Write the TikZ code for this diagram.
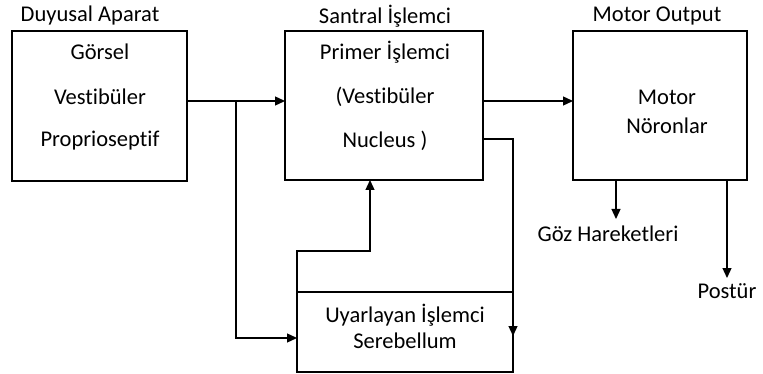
\documentclass[tikz,border=0pt]{standalone}
\usepackage{fontspec}
\setmainfont{Carlito}[Ligatures={NoCommon}]
\usetikzlibrary{arrows.meta}
\begin{document}
\begin{tikzpicture}[x=1pt,y=-1pt,
  box/.style={draw,line width=1.3pt},
  txt/.style={inner sep=0pt,font=\fontsize{22.5}{26}\selectfont},
  arr/.style={line width=1.3pt,-{Triangle[length=10pt,width=9pt]}}]
\useasboundingbox (0,0) rectangle (763,374);
% boxes
\draw[box] (12,31) rectangle (187,181);
\draw[box] (285,31) rectangle (483,180);
\draw[box] (573,31) rectangle (747,180);
\draw[box] (297,292) rectangle (513,372);
% named anchor coordinates
\coordinate (b1r) at (187,101);
\coordinate (b2l) at (285,101);
\coordinate (b2r) at (483,101);
\coordinate (b3l) at (573,101);
\coordinate (split) at (236,101);
\coordinate (b4l) at (297,338);
\coordinate (b2r2) at (483,139);
\coordinate (down) at (513,336);
\coordinate (b4tl) at (297,292);
\coordinate (bend) at (297,251);
\coordinate (b2b) at (370,180);
\coordinate (g1) at (616,180);
\coordinate (g2) at (616,219);
\coordinate (p1) at (727,180);
\coordinate (p2) at (727,278);
% titles
\node[txt] (t1) at (90,16) {Duyusal Aparat};
\node[txt] (t2) at (385,16) {Santral İşlemci};
\node[txt] (t3) at (657,16) {Motor Output};
% inner texts
\node[txt] (a1) at (100,52) {Görsel};
\node[txt] (a2) at (100,97) {Vestibüler};
\node[txt] (a3) at (100,141) {Proprioseptif};
\node[txt] (c1) at (385,52) {Primer İşlemci};
\node[txt] (c2) at (385,97) {(Vestibüler};
\node[txt] (c3) at (385,141) {Nucleus )};
\node[txt] (m1) at (667,97) {Motor};
\node[txt] (m2) at (667,126) {Nöronlar};
\node[txt] (s1) at (405,315) {Uyarlayan İşlemci};
\node[txt] (s2) at (405,341) {Serebellum};
\node[txt] (goz) at (608,234) {Göz Hareketleri};
\node[txt] (pos) at (727,291) {Postür};
% connectors
\draw[arr] (b1r) -- (b2l);
\draw[arr] (split) |- (b4l);
\draw[arr] (b2r) -- (b3l);
\draw[arr] (b2r2) -| (down);
\draw[arr] (b4tl) -- (bend) -| (b2b);
\draw[arr] (g1) -- (g2);
\draw[arr] (p1) -- (p2);
\end{tikzpicture}
\end{document}
